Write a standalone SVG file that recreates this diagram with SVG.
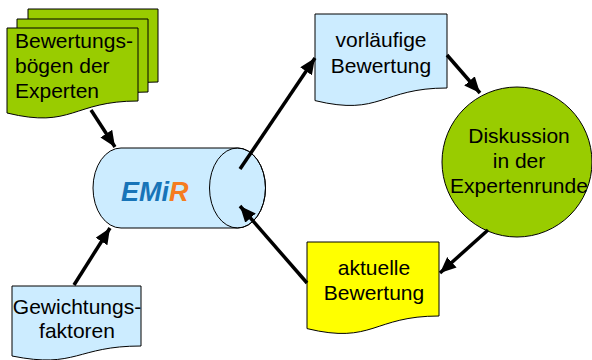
<svg xmlns="http://www.w3.org/2000/svg" width="592" height="360" viewBox="0 0 592 360">
<defs>
<marker id="ah" markerUnits="userSpaceOnUse" markerWidth="18" markerHeight="16" refX="16" refY="7" orient="auto">
<path d="M0,0 L16,7 L0,14 Z" fill="#000"/>
</marker>
</defs>
<style>
.shape{stroke:#000;stroke-width:1}
.green{fill:#99CC00}
.blue{fill:#CCECFF}
.yellow{fill:#FFFF00}
text{font-family:"Liberation Sans",Arial,sans-serif;font-size:21px;fill:#000}
.c{text-anchor:middle}
.conn{stroke:#000;stroke-width:3.5;fill:none;marker-end:url(#ah)}
</style>
<rect width="592" height="360" fill="#fff"/>
<g id="bewertungsboegen">
<path class="shape green" d="M28,9 H158 V82 C93,82 93,110 28,94 Z"/>
<path class="shape green" d="M17,19 H148 V92 C82.5,92 82.5,120 17,104 Z"/>
<path class="shape green" d="M7,28 H138 V101 C72.5,101 72.5,129 7,113 Z"/>
<text x="15" y="48">Bewertungs-</text>
<text x="15" y="73">bögen der</text>
<text x="15" y="98">Experten</text>
</g>
<g id="emir">
<path class="shape blue" d="M121,148 H237.5 A28,40 0 0 1 237.5,228 H121 A28,40 0 0 1 121,148 Z"/>
<ellipse class="shape" cx="237.5" cy="188" rx="28" ry="40" fill="none"/>
<text x="121" y="201" style="font-size:27px;font-weight:bold;font-style:italic"><tspan fill="#1874B8">EMi</tspan><tspan fill="#F57C20">R</tspan></text>
</g>
<g id="gewichtungsfaktoren">
<path class="shape blue" d="M12,286 H141 V346 C76.5,346 76.5,369 12,356 Z"/>
<text class="c" x="77" y="314">Gewichtungs-</text>
<text class="c" x="77" y="338">faktoren</text>
</g>
<g id="vorlaeufige">
<path class="shape blue" d="M315,14 H447 V88 C381,88 381,116.6 315,100.6 Z"/>
<text class="c" x="381" y="47">vorläufige</text>
<text class="c" x="381" y="73">Bewertung</text>
</g>
<g id="diskussion">
<circle class="shape green" cx="517" cy="162" r="75"/>
<text class="c" x="519" y="143">Diskussion</text>
<text class="c" x="519" y="168">in der</text>
<text class="c" x="519" y="193">Expertenrunde</text>
</g>
<g id="aktuelle">
<path class="shape yellow" d="M307,242 H439 V316 C373,316 373,344.6 307,328.6 Z"/>
<text class="c" x="374" y="275">aktuelle</text>
<text class="c" x="374" y="300">Bewertung</text>
</g>
<g id="connectors">
<line class="conn" x1="91" y1="110" x2="115" y2="147"/>
<line class="conn" x1="74" y1="285" x2="110" y2="228"/>
<line class="conn" x1="240" y1="169" x2="315" y2="58"/>
<line class="conn" x1="447" y1="55" x2="480" y2="93"/>
<line class="conn" x1="488" y1="230" x2="440" y2="273"/>
<line class="conn" x1="307" y1="283" x2="240" y2="206"/>
</g>
</svg>
